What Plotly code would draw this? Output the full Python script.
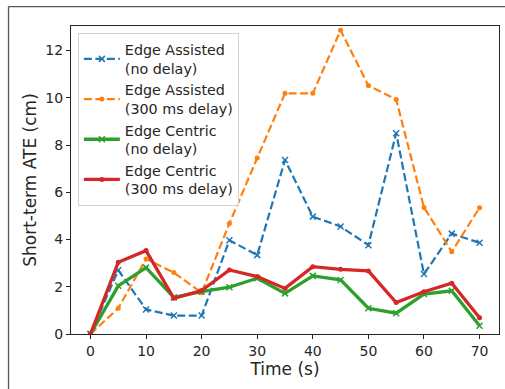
import plotly.graph_objects as go

time_s = [0, 5, 10, 15, 20, 25, 30, 35, 40, 45, 50, 55, 60, 65, 70]
ea_no_delay = [0, 2.70, 1.04, 0.78, 0.78, 3.97, 3.34, 7.37, 4.97, 4.55, 3.76, 8.50, 2.54, 4.25, 3.86]
ea_300ms = [0, 1.09, 3.18, 2.60, 1.75, 4.68, 7.45, 10.19, 10.19, 12.86, 10.52, 9.93, 5.36, 3.48, 5.35]
ec_no_delay = [0, 2.04, 2.81, 1.55, 1.79, 1.98, 2.36, 1.72, 2.46, 2.29, 1.09, 0.88, 1.69, 1.83, 0.35]
ec_300ms = [0, 3.04, 3.53, 1.51, 1.84, 2.71, 2.43, 1.93, 2.85, 2.74, 2.67, 1.33, 1.79, 2.15, 0.69]

series = [
    ("Edge Assisted<br>(no delay)", ea_no_delay, "#1f77b4", "8px,3.5px", 2.2, "x-thin"),
    ("Edge Assisted<br>(300 ms delay)", ea_300ms, "#ff7f0e", "8px,3.5px", 2.2, "circle"),
    ("Edge Centric<br>(no delay)", ec_no_delay, "#2ca02c", "solid", 3.3, "x-thin"),
    ("Edge Centric<br>(300 ms delay)", ec_300ms, "#d62728", "solid", 3.3, "circle"),
]

fig = go.Figure()
for name, vals, color, dash, lw, sym in series:
    if sym == "x-thin":
        marker = dict(symbol="x-thin", size=6, color=color, line=dict(color=color, width=1.5))
    else:
        marker = dict(symbol="circle", size=5, color=color, line=dict(width=0))
    fig.add_trace(go.Scatter(
        x=time_s, y=vals, name=name, mode="lines+markers",
        line=dict(color=color, width=lw, dash=dash),
        marker=marker,
    ))

axis_font = dict(family="DejaVu Sans", size=14, color="#262626")
fig.update_layout(
    width=505, height=389,
    margin=dict(l=71, r=6, t=26, b=55),
    paper_bgcolor="white", plot_bgcolor="white",
    font=dict(family="DejaVu Sans", size=14, color="#262626"),
    showlegend=True,
    legend=dict(
        x=0.016, y=0.978, xanchor="left", yanchor="top",
        bgcolor="rgba(255,255,255,0.85)", bordercolor="#d0d0d0", borderwidth=1,
        font=dict(family="DejaVu Sans", size=14.3, color="#262626"),
        tracegroupgap=0, itemwidth=36,
    ),
    xaxis=dict(
        range=[-3.5, 73.5], tickvals=[0, 10, 20, 30, 40, 50, 60, 70],
        showline=True, mirror=True, linecolor="#262626", linewidth=1.2,
        ticks="outside", ticklen=4, tickcolor="#262626", tickwidth=1,
        showgrid=False, zeroline=False, tickfont=axis_font,
        title=dict(text="Time (s)", font=dict(family="DejaVu Sans", size=17, color="#262626"), standoff=2),
    ),
    yaxis=dict(
        range=[0, 13.04], tickvals=[0, 2, 4, 6, 8, 10, 12],
        showline=True, mirror=True, linecolor="#262626", linewidth=1.2,
        ticks="outside", ticklen=4, tickcolor="#262626", tickwidth=1,
        showgrid=False, zeroline=False, tickfont=axis_font,
        title=dict(text="Short-term ATE (cm)", font=dict(family="DejaVu Sans", size=17, color="#262626"), standoff=4),
    ),
    shapes=[
        dict(type="line", xref="paper", yref="paper", x0=-0.146, x1=-0.146, y0=-0.25, y1=1.063,
             line=dict(color="#555555", width=1.3)),
        dict(type="line", xref="paper", yref="paper", x0=-0.146, x1=1.1, y0=1.063, y1=1.063,
             line=dict(color="#555555", width=1.3)),
    ],
)

fig.write_html("out.html", config={"displayModeBar": False},
               post_script="document.body.style.margin='0';")
